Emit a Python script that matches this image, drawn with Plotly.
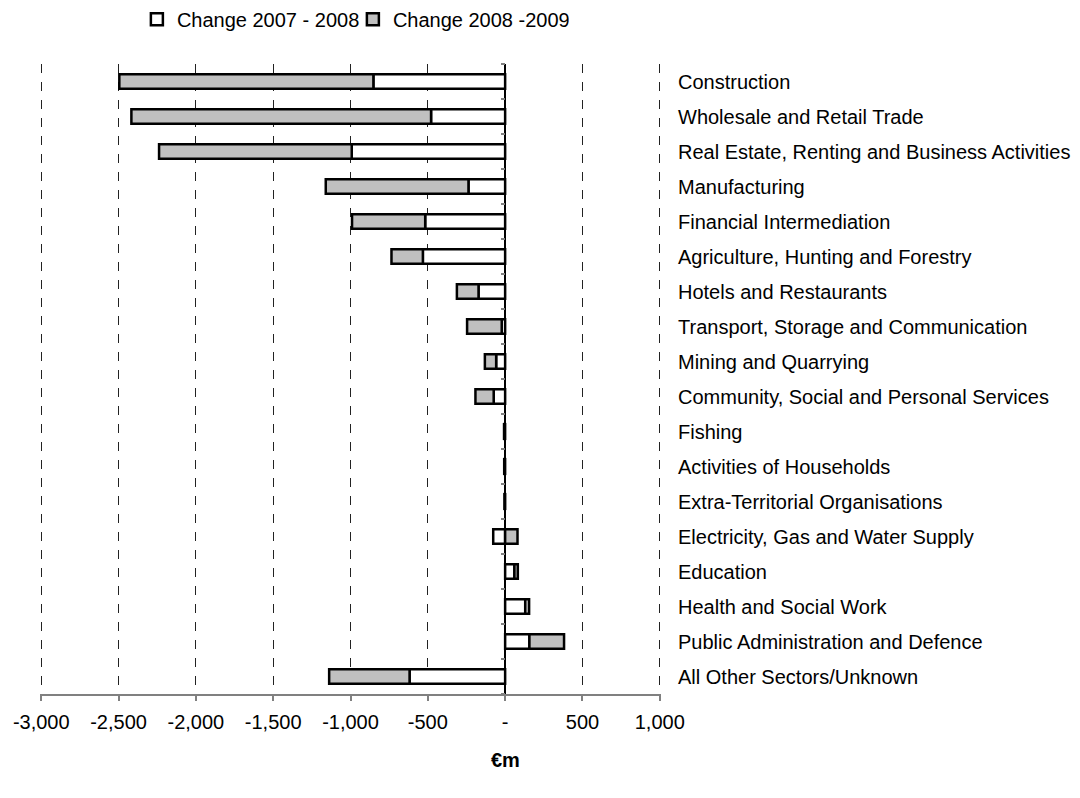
import plotly.graph_objects as go

categories = [
    "Construction",
    "Wholesale and Retail Trade",
    "Real Estate, Renting and Business Activities",
    "Manufacturing",
    "Financial Intermediation",
    "Agriculture, Hunting and Forestry",
    "Hotels and Restaurants",
    "Transport, Storage and Communication",
    "Mining and Quarrying",
    "Community, Social and Personal Services",
    "Fishing",
    "Activities of Households",
    "Extra-Territorial Organisations",
    "Electricity, Gas and Water Supply",
    "Education",
    "Health and Social Work",
    "Public Administration and Defence",
    "All Other Sectors/Unknown",
]
change_2007_2008 = [-852, -479, -992, -237, -517, -532, -172, -22, -58, -74,
                    -4, -3, -2, -77, 60, 130, 157, -618]
change_2008_2009 = [-1643, -1938, -1246, -923, -473, -203, -140, -224, -73, -118,
                    -3, -3, -2, 80, 22, 25, 224, -520]

tick_vals = [-3000, -2500, -2000, -1500, -1000, -500, 0, 500, 1000]
tick_text = ["-3,000", "-2,500", "-2,000", "-1,500", "-1,000", "-500", "-", "500", "1,000"]
x_range = [-3008, 1008]   # tiny padding so the edge gridlines are drawn
unit_label = "€m"

FONT = "Liberation Sans, Arial, sans-serif"

fig = go.Figure()
fig.add_trace(go.Bar(
    y=categories, x=change_2007_2008, orientation="h",
    name="Change 2007 - 2008",
    marker=dict(color="white", line=dict(color="black", width=2.5)),
))
fig.add_trace(go.Bar(
    y=categories, x=change_2008_2009, orientation="h",
    name="Change 2008 -2009",
    marker=dict(color="#c0c0c0", line=dict(color="black", width=2.5)),
))
# empty helper trace so the category-boundary tick axis renders
fig.add_trace(go.Scatter(x=[], y=[], yaxis="y2", showlegend=False, hoverinfo="skip"))

zero_frac = (0 - x_range[0]) / (x_range[1] - x_range[0])
n = len(categories)

fig.update_layout(
    width=1080, height=798,
    barmode="relative",
    bargap=0.58,
    plot_bgcolor="white",
    paper_bgcolor="white",
    margin=dict(l=40.3, r=418.8, t=63.5, b=104, autoexpand=False),
    font=dict(family=FONT, size=20, color="black"),
    legend=dict(
        orientation="h", x=0.156, xanchor="left", y=1.071, yanchor="middle",
        font=dict(size=20), traceorder="normal", entrywidth=171,
        bgcolor="rgba(0,0,0,0)",
    ),
    xaxis=dict(
        range=x_range,
        tickvals=tick_vals, ticktext=tick_text,
        showgrid=True, gridcolor="#222222", griddash="dash", gridwidth=1,
        zeroline=True, zerolinecolor="black", zerolinewidth=1.5,
        showline=True, linecolor="#808080", linewidth=1.5,
        ticks="outside", ticklen=5, tickcolor="#808080", tickwidth=1.5,
        ticklabelstandoff=4,
        tickfont=dict(size=20),
        automargin=False,
    ),
    yaxis=dict(
        type="category",
        categoryorder="array", categoryarray=categories,
        autorange="reversed",
        side="right",
        showgrid=False, zeroline=False, showline=False,
        ticks="", ticklabelstandoff=16,
        tickfont=dict(size=20),
        automargin=False,
    ),
    yaxis2=dict(
        overlaying="y", anchor="free",
        position=zero_frac,
        range=[n - 0.5, -0.5],
        tickvals=[i - 0.5 for i in range(n + 1)],
        showticklabels=False, showgrid=False, zeroline=False,
        showline=False, ticks="outside", ticklen=4, tickcolor="#808080", tickwidth=1.5,
        automargin=False,
    ),
    annotations=[dict(
        text="<b>" + unit_label + "</b>", x=0, xref="x", y=-0.1047, yref="paper",
        xanchor="center", yanchor="middle", showarrow=False, font=dict(size=20),
    )],
)

fig.write_html(
    "out.html",
    config={"displayModeBar": False},
    post_script="document.body.style.margin='0';document.body.style.padding='0';"
                "document.body.style.overflow='hidden';",
)
